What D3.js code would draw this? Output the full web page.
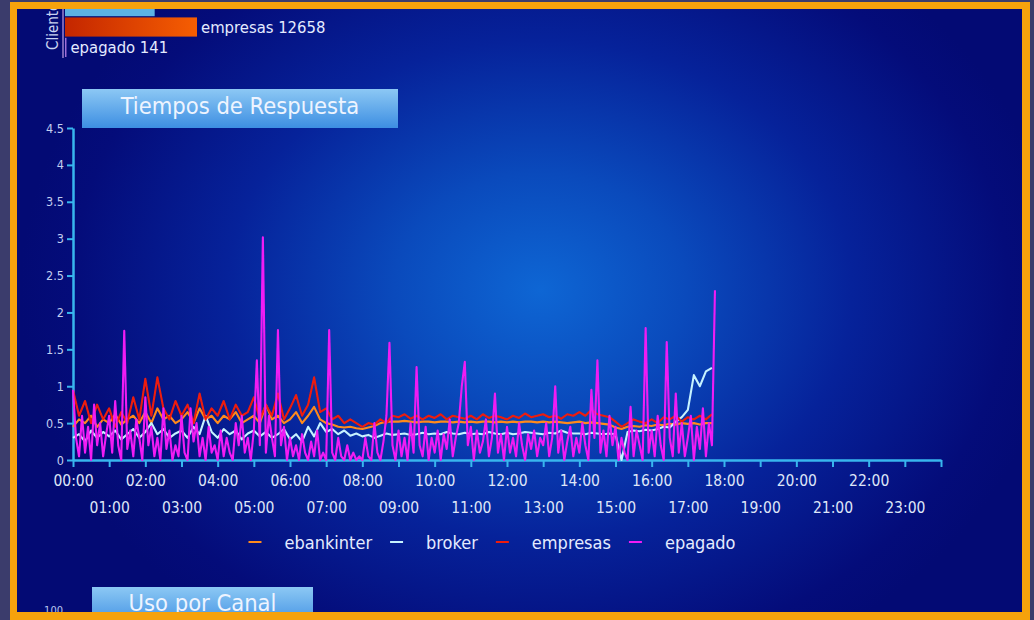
<!DOCTYPE html>
<html><head><meta charset="utf-8">
<script src="https://cdn.jsdelivr.net/npm/d3@7"></script>
<style>
html,body{margin:0;padding:0;background:#3b3c6c;}
svg{display:block;}
text{font-family:"Liberation Sans Narrow","DejaVu Sans Condensed","Liberation Sans",sans-serif;}
</style></head><body>
<svg id="c" width="1034" height="620"></svg>
<script>
// ---------- DATA ----------
const seriesNames = ["ebankinter", "broker", "empresas", "epagado"];
const seriesColors = ["#ff8a1c", "#c6f2ff", "#ee1c0c", "#f01cf4"];
const hourTicks = d3.range(0, 25);
const tickLabels = ["00:00","01:00","02:00","03:00","04:00","05:00","06:00","07:00","08:00","09:00","10:00","11:00",
  "12:00","13:00","14:00","15:00","16:00","17:00","18:00","19:00","20:00","21:00","22:00","23:00",""];
const yTicks = [0, 0.5, 1, 1.5, 2, 2.5, 3, 3.5, 4, 4.5];
const yTickLabels = ["0","0.5","1","1.5","2","2.5","3","3.5","4","4.5"];

// sample interval in minutes
const stepMinutes = 10;
const epagadoStepMinutes = 5;

const ebankinter = [
  0.45,0.55,0.5,0.6,0.45,0.55, 0.5,0.62,0.48,0.55,0.6,0.5, 0.65,0.5,0.7,0.55,0.6,0.5,
  0.55,0.65,0.5,0.7,0.55,0.6, 0.5,0.6,0.55,0.65,0.5,0.55, 0.6,0.5,0.75,0.55,0.6,0.5,
  0.55,0.65,0.5,0.6,0.72,0.55, 0.5,0.48,0.45,0.44,0.45,0.43, 0.42,0.44,0.46,0.5,0.52,0.52,
  0.52,0.53,0.52,0.51,0.52,0.52, 0.51,0.52,0.52,0.51,0.52,0.51, 0.52,0.51,0.52,0.52,0.51,0.52,
  0.51,0.52,0.51,0.52,0.52,0.51, 0.52,0.51,0.52,0.51,0.5,0.51, 0.52,0.5,0.51,0.5,0.49,0.48,
  0.44,0.42,0.45,0.46,0.45,0.47, 0.46,0.48,0.47,0.49,0.48,0.5, 0.49,0.5,0.48,0.5,0.5
];
const broker = [
  0.3,0.35,0.25,0.4,0.3,0.38, 0.32,0.4,0.28,0.35,0.42,0.3, 0.38,0.5,0.35,0.42,0.3,0.36,
  0.4,0.3,0.45,0.35,0.6,0.38, 0.3,0.42,0.35,0.4,0.28,0.36, 0.4,0.32,0.38,0.3,0.35,0.42,
  0.28,0.35,0.25,0.45,0.32,0.5, 0.38,0.42,0.35,0.4,0.33,0.36, 0.32,0.34,0.3,0.33,0.36,0.34,
  0.35,0.36,0.34,0.35,0.37,0.35, 0.36,0.35,0.38,0.36,0.35,0.37, 0.35,0.36,0.35,0.38,0.36,0.35,
  0.37,0.35,0.36,0.38,0.37,0.36, 0.35,0.37,0.36,0.4,0.37,0.36, 0.36,0.35,0.37,0.36,0.35,0.36,
  0.35,0.0,0.38,0.4,0.39,0.41, 0.4,0.42,0.45,0.44,0.52,0.58, 0.68,1.15,1.0,1.2,1.25
];
const empresas = [
  0.95,0.6,0.8,0.5,0.75,0.55, 0.7,0.45,0.65,0.5,0.85,0.55, 1.1,0.6,1.12,0.7,0.55,0.8,
  0.6,0.75,0.5,0.9,0.55,0.7, 0.6,0.8,0.55,0.75,0.6,0.65, 0.85,0.55,0.75,0.6,0.9,0.55,
  0.7,0.88,0.6,0.75,1.12,0.65, 0.7,0.55,0.6,0.5,0.55,0.5, 0.45,0.5,0.48,0.55,0.5,0.6,
  0.58,0.62,0.56,0.6,0.55,0.6, 0.57,0.62,0.55,0.6,0.58,0.56, 0.6,0.55,0.62,0.57,0.6,0.58,
  0.55,0.6,0.57,0.63,0.58,0.6, 0.62,0.58,0.6,0.56,0.62,0.6, 0.65,0.6,0.68,0.62,0.6,0.58,
  0.52,0.45,0.5,0.55,0.52,0.5, 0.55,0.5,0.58,0.55,0.6,0.52, 0.58,0.55,0.6,0.55,0.62
];
const epagado = [
  0.95,0.3,0.05,0.6,0.1,0.45,0.0,0.75,0.2,0.5,0.05,0.35,
  0.6,0.1,0.8,0.2,0.0,1.75,0.15,0.4,0.05,0.55,0.3,0.0,
  0.85,0.2,0.45,0.05,0.3,0.0,0.7,0.15,0.4,0.0,0.2,0.05,
  0.6,0.1,0.0,0.7,0.25,0.5,0.05,0.3,0.0,0.45,0.1,0.2,
  0.0,0.4,0.05,0.3,0.1,0.0,0.5,0.2,0.6,0.1,0.3,0.0,
  0.4,1.35,0.2,3.02,0.1,0.6,0.3,0.05,1.76,0.2,0.45,0.0,
  0.3,0.05,0.2,0.0,0.35,0.1,0.0,0.25,0.05,0.4,0.0,0.1,
  0.0,1.76,0.1,0.0,0.3,0.05,0.0,0.2,0.0,0.1,0.0,0.05,
  0.0,0.3,0.05,0.0,0.5,0.1,0.0,0.25,0.6,1.59,0.2,0.0,
  0.4,0.05,0.3,0.0,0.5,0.1,1.26,0.2,0.05,0.45,0.0,0.3,
  0.1,0.4,0.0,0.35,0.15,0.55,0.05,0.3,0.5,1.0,1.33,0.2,
  0.45,0.0,0.4,0.1,0.25,0.55,0.05,0.3,0.9,0.1,0.35,0.0,
  0.45,0.1,0.3,0.05,0.5,0.2,0.0,0.35,0.15,0.4,0.05,0.3,
  0.2,0.5,0.05,0.3,1.0,0.1,0.4,0.0,0.25,0.45,0.05,0.3,
  0.1,0.5,0.2,0.0,0.95,0.3,1.35,0.1,0.4,0.05,0.6,0.2,
  0.45,0.0,0.3,0.1,0.0,0.72,0.05,0.4,0.2,0.0,1.79,0.1,
  0.4,0.05,0.6,0.2,0.0,1.6,0.3,0.05,0.9,0.1,0.5,0.05,
  0.3,0.6,0.0,0.45,0.15,0.7,0.05,0.5,0.2,2.3
];

// top (cropped) "Clientes" bar chart
const clientCats = ["broker", "empresas", "epagado"];
const clientVals = [8600, 12658, 141];
const clientLabelShown = [false, true, true];

// ---------- DRAW ----------
const W = 1034, H = 620;
const svg = d3.select("#c");
const defs = svg.append("defs");

const rg = defs.append("radialGradient").attr("id", "bg")
  .attr("gradientUnits", "userSpaceOnUse").attr("cx", 540).attr("cy", 290).attr("r", 520)
  .attr("gradientTransform", "translate(540,290) scale(1,0.8) translate(-540,-290)");
[[0, "#0e66d4"], [0.28, "#0a4abc"], [0.6, "#06229a"], [0.9, "#040c7a"], [1, "#030a74"]].forEach(s =>
  rg.append("stop").attr("offset", s[0]).attr("stop-color", s[1]));

const tg = defs.append("linearGradient").attr("id", "titleGrad").attr("x1", 0).attr("y1", 0).attr("x2", 0).attr("y2", 1);
tg.append("stop").attr("offset", 0).attr("stop-color", "#8cc8f4");
tg.append("stop").attr("offset", 1).attr("stop-color", "#3d8ee2");

const og = defs.append("linearGradient").attr("id", "orangeBar").attr("x1", 0).attr("y1", 0).attr("x2", 1).attr("y2", 0);
og.append("stop").attr("offset", 0).attr("stop-color", "#c42600");
og.append("stop").attr("offset", 1).attr("stop-color", "#f65e02");

defs.append("clipPath").attr("id", "inner").append("rect")
  .attr("x", 17).attr("y", 9).attr("width", 1005).attr("height", 603);

const blur = defs.append("filter").attr("id", "soft").attr("x", "-5%").attr("y", "-5%").attr("width", "110%").attr("height", "110%");
blur.append("feGaussianBlur").attr("stdDeviation", 0.7);

svg.append("rect").attr("width", W).attr("height", H).attr("fill", "#3b3c6c");
svg.append("rect").attr("x", 10).attr("y", 2).attr("width", 1020).attr("height", 618).attr("fill", "#f6a20c");
svg.append("rect").attr("x", 17).attr("y", 9).attr("width", 1005).attr("height", 603).attr("fill", "url(#bg)");

const g = svg.append("g").attr("clip-path", "url(#inner)");

// --- top clients bar chart (cropped) ---
const cx = d3.scaleLinear().domain([0, 12658]).range([65, 197]);
const cy = d3.scaleBand().domain(clientCats).range([-3, 57]).paddingInner(0.06);
const clientColors = ["#5cb2e4", "url(#orangeBar)", "#a070d8"];
g.append("line").attr("x1", 63).attr("x2", 63).attr("y1", 0).attr("y2", 58)
  .attr("stroke", "#9b80cc").attr("stroke-width", 1.5);
g.selectAll("rect.cbar").data(clientCats).join("rect").attr("class", "cbar")
  .attr("x", cx(0)).attr("y", d => cy(d))
  .attr("width", (d, i) => Math.max(1, cx(clientVals[i]) - cx(0)))
  .attr("height", cy.bandwidth())
  .attr("fill", (d, i) => clientColors[i]);
g.selectAll("text.clab").data(clientCats.filter((d, i) => clientLabelShown[i])).join("text").attr("class", "clab")
  .attr("x", d => Math.max(cx(clientVals[clientCats.indexOf(d)]) + 4, 68))
  .attr("y", d => cy(d) + cy.bandwidth() / 2 + 6)
  .attr("fill", "#e4ebff").attr("font-size", 16.5)
  .text(d => d + " " + clientVals[clientCats.indexOf(d)]);
g.append("text").attr("transform", "translate(58,50) rotate(-90)")
  .attr("fill", "#c8d2f0").attr("font-size", 15).text("Clientes");

// --- title boxes ---
function titleBox(x0, y0, w, h, label, baseline) {
  g.append("rect").attr("x", x0).attr("y", y0).attr("width", w).attr("height", h).attr("fill", "url(#titleGrad)");
  g.append("text").attr("x", x0 + w / 2).attr("y", baseline).attr("text-anchor", "middle")
    .attr("fill", "#eef4ff").attr("font-size", 23.5).text(label);
}
titleBox(82, 89, 316, 39, "Tiempos de Respuesta", 114);
titleBox(92, 587, 221, 40, "Uso por Canal", 611);
g.append("text").attr("x", 63).attr("y", 614).attr("text-anchor", "end").attr("fill", "#b8c6ee").attr("font-size", 11).text("100");

// --- line chart ---
const x = d3.scaleLinear().domain([0, 24]).range([73, 941]);
const y = d3.scaleLinear().domain([0, 4.5]).range([460, 128]);

const axisColor = "#38b6ee";
const gx = g.append("g").attr("transform", `translate(0,${y(0)})`)
  .call(d3.axisBottom(x).tickValues(hourTicks).tickSize(7).tickSizeOuter(0).tickFormat(h => tickLabels[h]));
gx.select(".domain").attr("stroke", axisColor).attr("stroke-width", 2.5);
gx.selectAll(".tick line").attr("stroke", axisColor).attr("stroke-width", 2);
gx.selectAll(".tick text").attr("fill", "#dfe6f8").attr("font-size", 15.5)
  .attr("font-family", null)
  .attr("y", d => d % 2 === 0 ? 15 : 42);

const gy = g.append("g").attr("transform", `translate(${x(0)},0)`)
  .call(d3.axisLeft(y).tickValues(yTicks).tickSize(6).tickSizeOuter(0).tickFormat((d, i) => yTickLabels[i]));
gy.select(".domain").attr("stroke", axisColor).attr("stroke-width", 2.5);
gy.selectAll(".tick line").attr("stroke", axisColor).attr("stroke-width", 2);
gy.selectAll(".tick text").attr("fill", "#c3cff0").attr("font-size", 12.5).attr("font-family", null).attr("x", -9);

const seriesData = [ebankinter, broker, empresas, epagado];
const seriesSteps = [stepMinutes, stepMinutes, stepMinutes, epagadoStepMinutes];
const line = d3.line().x(d => x(d.t)).y(d => y(d.v));
const lines = g.append("g").attr("filter", "url(#soft)");
seriesData.forEach((arr, k) => {
  const pts = arr.map((v, i) => ({ t: i * seriesSteps[k] / 60, v }));
  lines.append("path").datum(pts).attr("d", line).attr("fill", "none")
    .attr("stroke", seriesColors[k]).attr("stroke-width", 2.1).attr("stroke-linejoin", "round");
});

// --- legend ---
const legend = g.append("g");
const items = seriesNames.map((n, i) => {
  const it = legend.append("g");
  it.append("line").attr("x1", 0).attr("x2", 13).attr("y1", 0).attr("y2", 0)
    .attr("stroke", seriesColors[i]).attr("stroke-width", 2);
  const t = it.append("text").attr("x", 36).attr("y", 6.5).attr("fill", "#e4ebff").attr("font-size", 18).text(n);
  return { it, w: 36 + t.node().getComputedTextLength() };
});
const gap = 18;
const total = d3.sum(items, d => d.w) + gap * (items.length - 1);
let lx = 492 - total / 2;
items.forEach(d => { d.it.attr("transform", `translate(${lx},542)`); lx += d.w + gap; });
</script>
</body></html>
